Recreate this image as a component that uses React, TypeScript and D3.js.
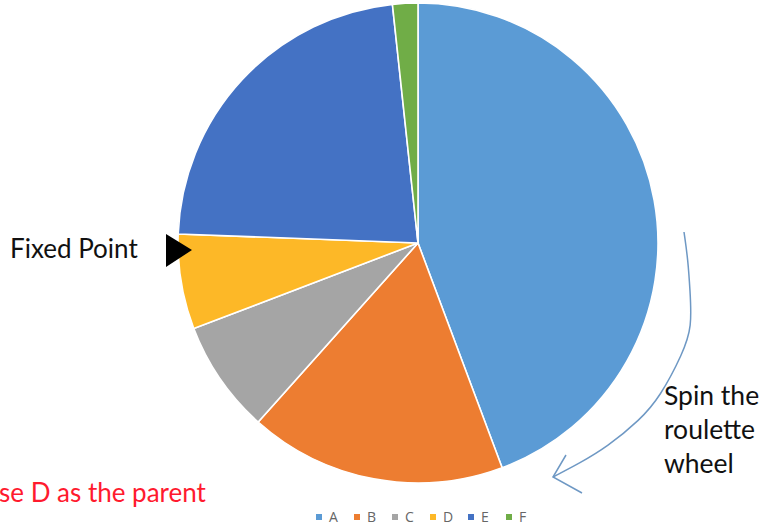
import React from "react";
import * as d3 from "d3";

const categories = ["A", "B", "C", "D", "E", "F"];
const values = [44.3, 17.3, 7.6, 6.4, 22.7, 1.7];
const colors = ["#5B9BD5", "#ED7D31", "#A5A5A5", "#FDB827", "#4472C4", "#70AD47"];

const W = 764;
const H = 526;
const cx = 418;
const cy = 243;
const R = 240;

export default function App() {
  const pie = d3.pie<number>().sort(null).value((d) => d)(values);
  const arc = d3.arc<d3.PieArcDatum<number>>().innerRadius(0).outerRadius(R);

  const arrowPts: [number, number][] = [
    [684, 232], [688, 260], [690, 290], [692, 327], [683, 353],
    [660, 397], [640, 420], [607, 447], [580, 463], [553, 477],
  ];
  const line = d3.line().curve(d3.curveBasis)(arrowPts) || "";

  const legendX = d3.scaleBand<string>().domain(categories).range([316, 544]);

  return (
    <div style={{ position: "absolute", left: 0, top: 0 }}>
      <svg width={W} height={H} style={{ display: "block" }}>
        <rect width={W} height={H} fill="#fff" />
        <g transform={`translate(${cx},${cy})`}>
          {pie.map((p, i) => (
            <path key={i} d={arc(p) || ""} fill={colors[i]} stroke="#fff" strokeWidth={1.6} />
          ))}
        </g>
        <text x={10} y={258} fontFamily="Lato, 'Open Sans', sans-serif" fontSize={26} fill="#111">
          Fixed Point
        </text>
        <path d="M166,234 L192,250 L166,267 Z" fill="#000" />
        <text x={-1} y={502} fontFamily="Lato, 'Open Sans', sans-serif" fontSize={26} fill="#FF1A2E">
          se D as the parent
        </text>
        <g fontFamily="Lato, 'Open Sans', sans-serif" fontSize={26.5} fill="#111">
          <text x={664} y={405}>Spin the</text>
          <text x={664} y={439}>roulette</text>
          <text x={664} y={473}>wheel</text>
        </g>
        <path d={line} fill="none" stroke="#6E98C4" strokeWidth={1.5} />
        <path d="M566,455 L553,477 L582,493" fill="none" stroke="#6E98C4" strokeWidth={1.5} />
        <g fontFamily="'Open Sans', sans-serif" fontSize={14} fill="#666">
          {categories.map((c, i) => (
            <g key={c} transform={`translate(${legendX(c)},0)`}>
              <rect x={0} y={514} width={6} height={6} fill={colors[i]} />
              <text x={13} y={521.5}>{c}</text>
            </g>
          ))}
        </g>
      </svg>
    </div>
  );
}
